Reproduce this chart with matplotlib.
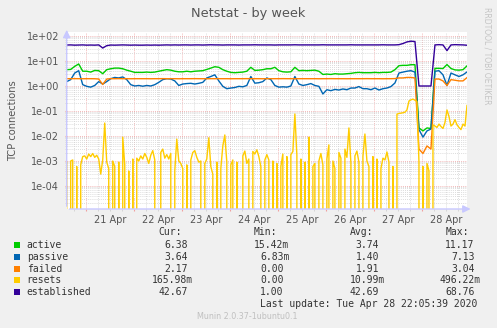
import numpy as np
import matplotlib
matplotlib.use('Agg')
import matplotlib.pyplot as plt
import matplotlib.dates as mdates
from matplotlib.ticker import LogLocator, FuncFormatter, NullFormatter
from matplotlib.patches import Rectangle

# --- data (2 h steps, resets in 1 h steps)
start = np.datetime64('2020-04-20T14:30')
t2 = start + np.arange(101) * np.timedelta64(2, 'h')
t1 = start + np.arange(201) * np.timedelta64(1, 'h')

active = [
    4.5, 4.6, 6.1, 7.6, 3.9, 3.9, 3.6, 4.2, 4.1, 3.1, 4.5, 4.9, 5.2, 5.2, 4.9, 4.3, 3.9, 3.5, 3.5, 3.5,
    3.6, 3.5, 3.6, 3.9, 4.2, 4.5, 4.3, 3.9, 3.7, 3.7, 3.9, 3.7, 3.9, 4.0, 4.1, 4.6, 5.2, 5.9, 5.6, 4.5,
    3.9, 3.5, 3.4, 3.5, 3.6, 3.9, 5.6, 4.2, 4.3, 4.5, 4.9, 4.9, 5.6, 4.1, 3.7, 3.6, 3.7, 5.6, 4.1, 4.2,
    4.1, 4.2, 4.3, 3.9, 2.9, 3.0, 2.9, 3.1, 3.0, 3.0, 3.1, 3.2, 3.4, 3.5, 3.4, 3.4, 3.4, 3.5, 3.4, 3.5,
    3.5, 3.6, 4.5, 6.5, 6.7, 6.7, 7.1, 7.1, 0.021, 0.016, 0.021, 0.020, 5.1, 5.1, 5.0, 7.2, 5.0, 4.4, 4.3, 4.5,
    6.38,
]
passive = [
    1.5, 1.8, 3.3, 4.1, 1.13, 0.97, 0.9, 1.05, 1.5, 1.2, 1.5, 1.96, 2.2, 2.1, 2.3, 1.8, 1.13, 1.0, 1.05, 0.98,
    1.05, 1.0, 1.13, 1.4, 1.8, 1.96, 1.9, 1.6, 1.05, 1.2, 1.25, 1.28, 1.2, 1.28, 1.4, 2.1, 2.4, 2.8, 1.6, 0.97,
    0.78, 0.83, 0.87, 0.97, 0.93, 1.05, 2.4, 1.3, 1.35, 1.5, 2.1, 1.8, 1.05, 0.9, 0.93, 0.9, 1.0, 2.4, 1.2, 1.05,
    1.13, 1.25, 1.05, 0.97, 0.48, 0.71, 0.65, 0.73, 0.69, 0.76, 0.71, 0.83, 0.83, 0.95, 0.78, 0.78, 0.71, 0.83, 0.69, 0.78,
    0.83, 0.95, 1.32, 3.3, 3.6, 3.9, 4.1, 3.6, 0.018, 0.009, 0.016, 0.019, 3.9, 4.1, 2.8, 1.05, 3.3, 2.8, 2.4, 2.8,
    3.64,
]
failed = [
    1.96, 1.96, 1.97, 1.96, 1.95, 1.96, 1.96, 1.95, 1.9, 1.15, 1.9, 1.96, 1.96, 1.97, 1.96, 1.96, 1.95, 1.96, 1.96, 1.96,
    1.96, 1.95, 1.96, 1.96, 1.97, 1.96, 1.96, 1.96, 1.95, 1.96, 1.96, 1.96, 1.97, 1.96, 1.96, 1.95, 1.96, 1.96, 1.96, 1.96,
    1.96, 1.95, 1.96, 1.96, 1.96, 1.97, 1.96, 1.96, 1.96, 1.95, 1.96, 1.96, 1.96, 1.96, 1.97, 1.96, 1.96, 1.95, 1.96, 1.96,
    1.96, 1.96, 1.96, 1.95, 1.96, 1.96, 1.97, 1.96, 1.96, 1.96, 1.95, 1.96, 1.96, 1.96, 1.96, 1.97, 1.96, 1.96, 1.96, 1.95,
    1.96, 1.96, 1.98, 2.1, 2.1, 2.2, 2.2, 2.1, 0.003, 0.002, 0.004, 0.003, 1.9, 1.9, 1.6, 1.05, 1.8, 1.7, 1.6, 1.6,
    2.17,
]
established = [
    43.5, 44.0, 43.0, 43.5, 44.0, 43.0, 43.5, 43.0, 44.0, 33.0, 41.0, 43.5, 43.0, 43.5, 44.0, 43.5, 43.0, 43.5, 43.0, 43.0,
    43.5, 43.0, 43.5, 43.0, 43.5, 44.0, 43.5, 44.0, 43.5, 44.0, 44.0, 43.5, 44.0, 44.0, 43.5, 44.0, 44.5, 44.0, 44.0, 43.5,
    44.0, 44.0, 44.0, 43.5, 44.0, 44.0, 44.0, 44.5, 44.0, 44.0, 44.0, 44.0, 43.5, 44.0, 44.0, 44.0, 44.0, 44.5, 44.0, 44.0,
    44.0, 44.0, 44.0, 44.0, 44.5, 44.0, 44.0, 44.0, 44.0, 44.0, 44.0, 44.5, 44.0, 44.0, 44.0, 44.0, 44.0, 44.0, 44.0, 44.5,
    44.0, 44.0, 44.0, 45.0, 50.0, 58.0, 62.0, 60.0, 1.0, 1.0, 1.0, 1.0, 44.0, 45.0, 44.0, 26.0, 44.0, 45.0, 44.5, 44.0,
    42.67,
]
resets_milli = [
    0.9, 0, 1.0, 1.1, 0, 0.6, 0, 0.7, 1.5, 1.6,
    1.2, 1.9, 1.5, 2.0, 1.4, 1.7, 1.2, 0.3, 1.1, 33,
    0.9, 0.5, 0, 1.0, 0.6, 0, 0.9, 0, 9.0, 0.7,
    0, 0.4, 0, 1.2, 0, 1.3, 1.0, 1.6, 1.2, 2.0,
    1.4, 0.8, 1.7, 2.6, 1.1, 0, 0, 2.2, 3.0, 1.3,
    1.8, 1.2, 2.0, 0, 0.4, 7.5, 1.0, 0.8, 0.5, 0,
    0.7, 0, 1.1, 2.2, 2.6, 1.4, 0.9, 1.0, 0, 0.8,
    1.2, 8.5, 0.6, 0.3, 0, 0.9, 0, 0.5, 4.0, 11,
    0.9, 0, 0.7, 1.1, 0, 0.9, 0, 0, 1.6, 2.5,
    0.8, 1.2, 0, 2.4, 1.9, 2.8, 1.5, 0.6, 0, 1.1,
    1.8, 1.1, 0, 1.0, 0, 0.8, 0, 0.6, 1.9, 0,
    1.5, 0, 1.8, 2.4, 76, 1.7, 0, 1.2, 0, 0.9,
    0, 9.0, 0, 0.6, 0.8, 0, 1.0, 2.0, 0.7, 0,
    1.2, 4.4, 0, 1.0, 0.5, 0, 2.2, 1.3, 0, 3.0,
    1.4, 21, 0.8, 0, 1.6, 2.5, 0.9, 0, 1.5, 12,
    1.0, 0.6, 0, 1.5, 0, 1.2, 0, 0.5, 1.3, 1.1,
    2.3, 0.9, 0, 0.6, 0, 75, 80, 82, 85, 90,
    110, 250, 280, 300, 270, 240, 0.9, 0, 0.6, 0,
    0.8, 0.4, 0, 28, 25, 22, 30, 24, 20, 35,
    110, 60, 25, 30, 45, 28, 22, 18, 30, 25,
    166,
]
resets = np.array(resets_milli) * 1e-3

names = ['active', 'passive', 'failed', 'resets', 'established']
colors = ['#00CC00', '#0066B3', '#FF8000', '#FFCC00', '#330099']
col_heads = ['Cur:', 'Min:', 'Avg:', 'Max:']
cur_vals = ['6.38', '3.64', '2.17', '165.98m', '42.67']
min_vals = ['15.42m', '6.83m', '0.00', '0.00', '1.00']
avg_vals = ['3.74', '1.40', '1.91', '10.99m', '42.69']
max_vals = ['11.17', '7.13', '3.04', '496.22m', '68.76']

W, H = 497, 328
fig = plt.figure(figsize=(W / 100, H / 100), dpi=100, facecolor='#F0F0F0')
ax = fig.add_axes([66.7 / W, (H - 209) / H, (467 - 66.7) / W, (209 - 31.5) / H])
ax.set_facecolor('white')

series = [(t2, active), (t2, passive), (t2, failed), (t1, resets), (t2, established)]
for (tt, vv), c in zip(series, colors):
    ax.plot(tt, vv, color=c, lw=1.0)

ax.set_yscale('log', nonpositive='clip')
ax.set_ylim(10 ** -4.92, 10 ** 2.18)
ax.set_xlim(start, start + np.timedelta64(200, 'h'))

ax.yaxis.set_major_locator(LogLocator(base=10, numticks=20))
ax.yaxis.set_minor_locator(LogLocator(base=10, subs=np.arange(2, 10), numticks=20))
ax.yaxis.set_major_formatter(FuncFormatter(lambda v, p: f'{v:.0e}'))
ax.yaxis.set_minor_formatter(NullFormatter())

ax.xaxis.set_major_locator(mdates.DayLocator())
ax.xaxis.set_major_formatter(NullFormatter())
ax.xaxis.set_minor_locator(mdates.HourLocator(byhour=[0, 6, 12, 18]))
ax.xaxis.set_minor_formatter(FuncFormatter(
    lambda v, p: mdates.num2date(v).strftime('%d %b') if mdates.num2date(v).hour == 12 else ''))

ax.grid(which='major', color='#F0A0A0', ls=(0, (1, 1.5)), lw=0.6)
ax.grid(which='minor', color='#D0D0D0', ls=(0, (1, 1.5)), lw=0.6)
ax.set_axisbelow(True)

ax.tick_params(which='major', axis='both', length=1.5, color='#F0A0A0', labelsize=7,
               labelcolor='#555555')
ax.tick_params(which='minor', axis='both', length=1.5, color='#D0D0D0', labelsize=7,
               labelcolor='#555555')
ax.tick_params(axis='y', pad=4)
ax.tick_params(axis='x', which='both', pad=3)

for s in ax.spines.values():
    s.set_visible(False)
axis_col = '#C8C8FF'
ax.annotate('', xy=(0, 1.025), xytext=(0, 0), xycoords='axes fraction',
            arrowprops=dict(arrowstyle='-|>,head_length=0.45,head_width=0.22', color=axis_col, lw=1))
ax.annotate('', xy=(1.016, 0), xytext=(0, 0), xycoords='axes fraction',
            arrowprops=dict(arrowstyle='-|>,head_length=0.45,head_width=0.22', color=axis_col, lw=1))

ax.set_ylabel('TCP connections', fontsize=7.15, color='#555555', labelpad=6)

fig.text(248 / W, 1 - 13 / H, 'Netstat - by week', ha='center', va='center',
         fontsize=9.3, color='#555555')
fig.text(486.5 / W, 1 - 56 / H, 'RRDTOOL / TOBI OETIKER', rotation=270, ha='center',
         va='center', fontsize=5.5, color='#C4C4C4')

# --- legend block, laid out on a monospace character grid like rrdtool
x0 = 26.7            # left edge of the legend text, px
cw = 5.98            # monospace character width, px
mono = dict(family='DejaVu Sans Mono', fontsize=7.0, color='#333333', va='center', ha='left')

def put(col, y, s, **kw):
    fig.text((x0 + col * cw) / W, 1 - y / H, s, **{**mono, **kw})

for head, col in zip(col_heads, [22, 38, 54, 70]):
    put(col, 232, head)

row_y = [244.7, 256.7, 268.5, 280.4, 292.3]
num_end = [27, 43, 59, 75]   # column just after the last digit (unit char sits there)
for n, c, cu, mn, av, mx, yy in zip(names, colors, cur_vals, min_vals, avg_vals, max_vals, row_y):
    put(0, yy, n)
    for s, e in zip([cu, mn, av, mx], num_end):
        put(e - len(s.rstrip('m')), yy, s)
    fig.patches.append(Rectangle((14 / W, 1 - (yy + 3) / H), 6 / W, 6 / H,
                                 transform=fig.transFigure, facecolor=c, edgecolor='none'))
put(39, 304.3, 'Last update: Tue Apr 28 22:05:39 2020')
fig.text(247 / W, 1 - 316.7 / H, 'Munin 2.0.37-1ubuntu0.1', ha='center', va='center',
         fontsize=5.8, color='#C0C0C0')

fig.savefig('out.png', dpi=100, facecolor=fig.get_facecolor())
